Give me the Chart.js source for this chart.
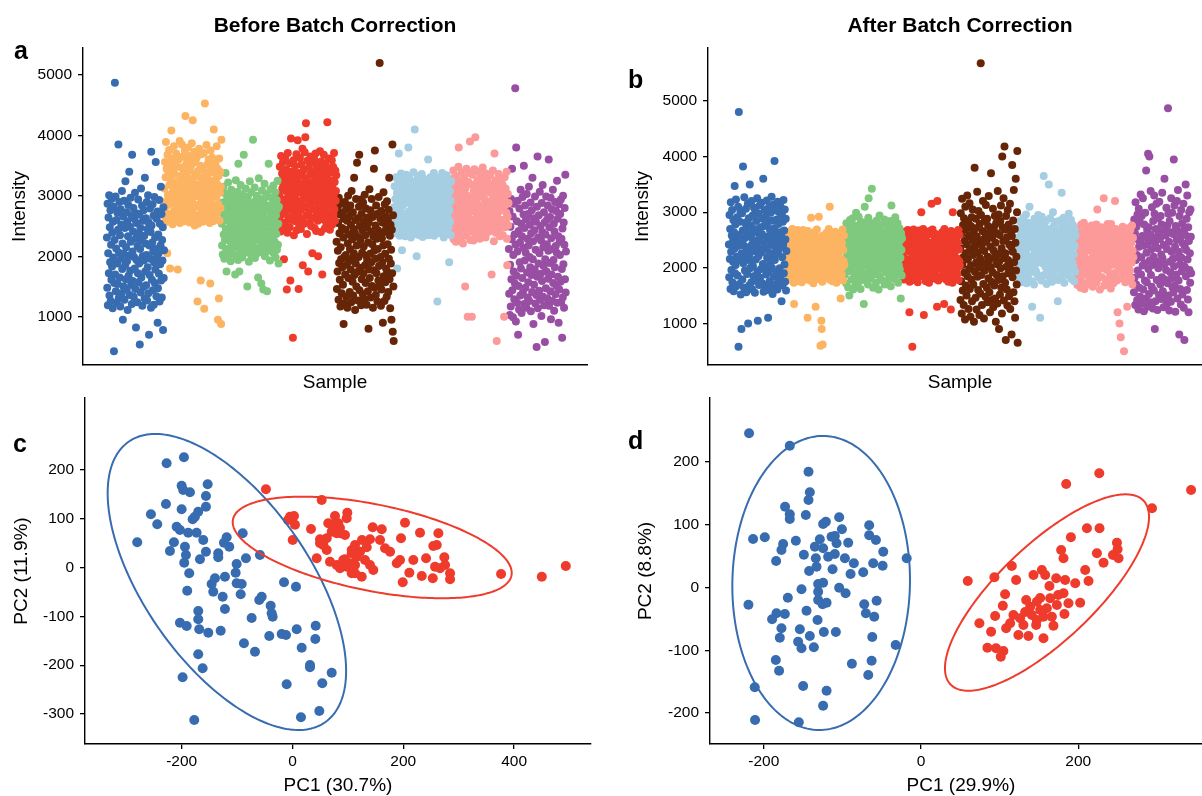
<!DOCTYPE html>
<html>
<head>
<meta charset="utf-8">
<script src="https://cdn.jsdelivr.net/npm/chart.js"></script>
<style>
html,body{margin:0;padding:0;background:#fff;width:1202px;height:796px;overflow:hidden;position:relative;font-family:"Liberation Sans",Arial,Helvetica,sans-serif}
canvas{position:absolute;display:block}
.lbl{position:absolute;font-weight:bold;font-size:25px;line-height:25px;color:#000;font-family:"Liberation Sans",Arial,Helvetica,sans-serif}
</style>
</head>
<body>
<canvas id="ca" width="601" height="400" style="left:0;top:0;width:601px;height:400px"></canvas>
<canvas id="cb" width="620" height="400" style="left:601px;top:0;width:620px;height:400px"></canvas>
<canvas id="cc" width="601" height="430" style="left:0;top:370px;width:601px;height:430px"></canvas>
<canvas id="cd" width="620" height="430" style="left:601px;top:370px;width:620px;height:430px"></canvas>
<div class="lbl" style="left:14px;top:38px">a</div>
<div class="lbl" style="left:628px;top:67px">b</div>
<div class="lbl" style="left:13px;top:431px">c</div>
<div class="lbl" style="left:628px;top:428px">d</div>
<script>
// ---------- DATA ----------
const batchNames = ['B1','B2','B3','B4','B5','B6','B7','B8'];

// Panel a: intensity of each sample before batch correction, in sample order
const beforeB1 = [
2310,1480,2870,1190,2050,2640,1720,3010,1350,2480,1900,2760,1260,2190,1610,2950,1830,2390,1140,2570,
1980,2820,430,1560,2270,4870,1700,2990,1420,2130,2600,1230,1880,2720,1540,2440,3850,1310,2060,2900,
1650,2350,1170,2780,1960,2520,1390,3080,1790,2210,950,2660,1500,2040,2920,1280,2470,1850,3240,1620,
2150,2730,1450,1920,2580,1110,2330,2850,1680,2010,3400,1360,2490,1760,2970,2240,1530,2680,1210,3680,
2080,1590,2410,2800,1330,1990,2620,1800,3050,1460,2290,820,2550,1940,2710,1240,2170,1720,2940,1570,
2380,1880,2690,540,2120,2470,1400,3120,1650,2260,2840,1180,2000,2590,1490,2760,1930,2340,1300,3300,
1750,2210,2630,1520,2020,2900,1270,2450,1820,3010,1390,2560,700,2180,1690,2790,1960,2400,1150,3730,
2510,1610,2230,2860,1440,2080,2670,1200,1900,2980,1560,2310,1780,3560,2120,1340,2620,1990,2740,900,
1470,2360,2050,1710,2930,1250,2540,1870,2180,3150,1600,2700,1320,2270,1930,2480,780,2810,1640,2100];
const beforeB2 = [
3120,2780,3560,2640,3310,3890,2910,3450,2570,2050,3680,3020,2850,3390,2700,3760,3180,2960,1800,3540,
2620,3270,4080,2880,3620,3050,2530,3430,3150,2740,3820,2990,3360,2660,3510,3080,2800,3700,2590,3230,
3480,2920,1780,3170,2680,3600,3010,2840,3910,2550,3330,3100,2770,3470,2610,3850,3200,2940,3650,2710,
2880,3400,3060,2580,3750,3250,4320,2690,3520,2970,3140,2820,3580,2640,3300,3800,2900,3420,3040,2560,
3660,2760,3200,3490,2600,3030,3870,2930,3280,4250,2720,3550,3110,2860,3730,2510,3370,3000,3590,2650,
3190,2830,3640,3070,1250,3410,2540,3320,2990,3780,2680,3160,2870,3500,1600,3060,2740,3690,2950,3260,
2570,3440,3130,2810,3710,1130,3000,4530,2630,3350,3080,2700,3840,3210,2890,3520,2610,3280,3010,3600,
2780,3390,2550,3150,1550,3750,2920,3470,2690,3090,3630,2840,3240,2580,3570,4100,3020,2750,3380,3120,
3540,2660,3280,2980,3820,2720,3190,3450,950,2860,3330,1300,3620,2590,3050,3400,2800,3150,880,3930];
const beforeB3 = [
2540,2180,2890,2030,2710,3150,2360,2600,1960,2820,2270,3040,3380,2450,2120,1750,2930,2310,2660,1990,
3220,2420,2750,2080,2570,2980,2250,2860,1920,2480,3100,2200,2690,2370,3010,2050,2620,2780,2140,2510,
2910,2290,1700,2640,3260,2010,2460,2830,2170,2580,3070,1940,3530,2400,2720,1750,2960,2230,2550,3180,
2100,2670,2340,2870,1980,3020,2500,2190,2770,3680,2300,2610,2060,2940,2430,3120,2150,2800,2380,2700,
1500,2520,2990,2260,2650,1910,2840,2410,3240,2110,2590,2740,2020,3060,2350,2880,2210,2470,3930,2630,
2160,2790,2390,3140,1970,2560,2920,2280,2680,2040,3000,2440,2850,2130,1650,2610,3290,2320,2760,2070,
2490,2950,2240,2710,1550,2380,3090,2180,2820,2530,1450,2900,2270,2640,3200,2000,2460,2760,2120,3030,
2580,2200,1420,2840,2350,2990,2090,3530,2620,2410,2780,1930,2550,3110,2260,2700,2150,2970,2430,2860,
2330,2720,3170,2050,2600,2890,2240,2470,3060,1980,2680,2370,2930,2110,2780,3250,2190,2540,1880,2820];
const beforeB4 = [
3010,2620,3480,2790,3250,2410,3660,2950,2530,3370,3120,2700,3560,2880,3190,1950,2460,3310,2740,3620,
2560,3080,3440,2840,1450,3200,2390,3710,2990,2650,3360,2920,3100,2480,3540,1600,3280,3950,2770,3050,
2600,3400,3170,650,2860,3590,2350,3020,3300,2710,3490,2580,3140,2940,3690,2430,3260,2820,3920,3090,
2670,1460,3380,2510,3060,3630,2760,3210,2450,3520,2900,3340,2620,3780,1850,3160,2980,3430,2540,3070,
3720,2810,3970,3290,4200,2680,3130,2370,3580,2960,3230,1750,2730,3470,2890,3040,2570,3350,3650,2850,
2500,3180,2930,3550,2050,3020,2640,3390,3110,2780,3600,2470,3270,2910,3700,3000,2420,3450,2720,3150,
3330,2590,2000,3060,3500,2830,3240,2680,3740,2970,3140,2400,3570,2870,3420,1700,3010,2750,3310,2610,
3680,2900,3200,2460,3530,3080,2800,3370,2550,3290,2700,4220,3120,2980,3460,2640,3620,2860,3180,2440,
3050,3390,2730,3260,2950,3590,2520,3150,2840,3480,2690,3000,3710,2780,3230,2590,3420,2920,3080,3340];
const beforeB5 = [
2240,1460,2810,1750,2090,2550,1280,2970,1890,2380,1610,2690,1170,2150,1950,2870,1390,2470,1820,2730,
1530,2310,880,2620,1990,1220,2900,1700,2440,2020,1330,2780,1860,2590,1150,2210,3000,1640,2360,1920,
2660,1410,2120,2840,1780,2520,1240,3080,1960,2280,1580,2730,1350,2450,2050,3300,1690,2390,1110,2600,
1880,2950,1500,2180,3550,1740,2630,1270,2320,1990,2820,3680,1440,2500,1810,2270,2940,1190,2700,1620,
2060,2430,1370,2890,1720,2160,2580,1290,3020,1850,2350,1560,2790,2010,1200,2480,1930,2640,1420,2230,
800,2560,1780,3110,1640,2040,2760,1320,2410,1900,2950,1510,2200,2650,1150,2330,1770,3450,2090,1480,
3750,1960,2510,1360,2840,1720,2290,2700,1250,2120,2430,1600,2980,1840,2350,5200,1530,2620,1990,1180,
2750,1450,2300,1900,2560,900,2180,3060,1670,2400,1260,2860,2040,1570,2660,1800,2480,1330,2910,1740,
2200,2590,1410,2770,1960,3300,1620,2340,1140,2520,1880,2110,950,2440,1720,3850,750,2680,1500,600];
const beforeB6 = [
2810,2470,3160,2640,2950,2380,3310,2720,2530,3050,1800,2870,2410,3230,2680,3700,2560,2990,2340,3120,
2760,2450,3370,2620,2910,2100,3080,2500,2840,3270,2390,2700,3010,2580,3190,2330,2930,2650,3350,2480,
2890,3140,2600,2360,3020,3800,2740,2550,3290,2430,2960,2680,3100,2310,2850,2570,3220,2790,2440,3060,
2620,3390,2480,2820,3170,4100,2530,2940,2370,3250,2710,2000,3040,2590,2880,3330,2460,2770,3110,2350,
2980,2540,3200,2670,2420,3060,2860,3360,2510,2750,2320,3130,2630,2900,3280,2470,2800,3000,2580,3180,
2400,2870,3240,2690,2520,3030,2780,3600,2350,2960,2610,3150,2450,2840,3310,2560,2730,3070,2390,2920,
3210,2490,2770,2950,2600,3380,2340,2830,3090,2520,2690,3000,2430,3260,2740,2580,1250,2900,3140,2620,
2710,3050,2380,2860,3300,2550,2990,2650,3170,2420,2800,3380,2500,2940,2660,3100,2310,2850,3230,2590,
2970,2440,3120,2700,2540,3340,2820,2400,3020,2640,3190,2480,2880,1900,2760,3080,2570,2920,2350,3240];
const beforeB7 = [
2660,3010,2390,3280,2550,2870,3420,2280,2960,2620,3150,2450,2780,3330,2240,3060,2710,2500,3210,2830,
2360,2930,3480,3800,2590,3090,2420,2750,3260,2300,2980,2640,3390,2520,2860,3170,2210,2720,3040,2470,
3300,2580,2890,1500,3120,2340,2770,3450,2490,2950,3000,1000,2680,3230,2400,2830,3380,2560,3900,2270,
2940,2610,3190,2430,1000,2800,3350,2530,2970,2260,3080,2740,3440,2380,2860,3970,2620,3140,2490,2910,
2330,3250,2690,3020,2440,2850,3400,2580,3110,2290,2760,3320,2510,2990,2650,3200,2370,2810,3470,2600,
3060,2460,2730,3290,2550,2930,3160,2310,2840,3370,2640,2480,3050,2760,3230,2400,2900,2580,3130,2700,
2420,3340,2870,2560,3070,2680,1700,3180,2460,2950,3420,2620,2790,2250,3100,3700,2530,2880,3260,2390,
2980,2640,600,3210,2700,2430,3040,2860,3360,2510,2750,3140,2330,2910,2600,3280,2470,3000,2820,2550,
3190,2350,2780,3070,2600,1000,2940,3310,2480,2850,3120,2570,2720,3400,2290,1850,2660,3030,2510,2880];
const beforeB8 = [
2120,1380,2750,1030,1860,2490,1170,2950,1620,2280,3450,1440,2660,990,2020,1750,2870,1290,2360,1550,
4780,2190,920,3800,1680,2580,1230,2080,2920,700,1510,2420,1120,2790,1900,2230,1350,3100,1800,2540,
1060,2330,1640,2980,1400,2140,2690,3500,1210,2470,1930,2840,1480,2060,2610,1150,3030,1730,2290,1320,
2700,1570,2180,3150,1260,1990,2520,1820,2890,1090,2380,1690,2760,1410,3300,1950,2250,880,2630,1530,
2430,1780,2990,1220,2110,2570,1360,500,2820,1660,3650,1140,2310,1880,2680,1430,2050,3070,1280,2500,
1710,2260,1010,2880,1590,2400,3180,1330,2150,1840,2730,1190,2560,580,1950,2360,1470,2990,1750,2200,
2610,1300,2840,1630,2090,3600,1180,2480,1890,2650,1420,2970,960,2300,1700,2780,1260,2120,3100,1560,
1940,2540,1100,2410,1820,2900,1370,2170,2750,1510,2060,3250,1230,2620,1660,2330,900,2860,1450,2240,
2020,2700,1580,2940,1240,2290,1790,650,2460,1320,3000,1870,2560,1150,2190,2800,1620,3350,1400,2080];

// Panel b: intensity of each sample after batch correction
const afterB1 = [
2420,1830,2950,2160,2700,1620,3180,2290,1960,2580,3040,1740,2470,2110,2860,1580,2640,2340,3470,1900,
2780,2050,3230,1670,2510,2200,2910,1860,2390,3100,580,4800,2590,1710,2830,2140,3010,1520,2450,900,
2260,2980,1790,2670,3820,2080,2400,1640,3270,2530,1950,2810,2170,3060,1560,2720,2310,1890,2600,3150,
1000,2370,2890,1680,2240,3500,1990,2760,2120,2550,1740,3200,2420,1610,2940,2030,2650,1850,3080,2300,
2700,1550,2480,3010,2150,2840,1780,2380,3250,1930,1050,2620,2210,2970,1690,2500,3120,1820,2330,2730,
1980,3170,2280,2610,1720,2880,2070,3600,1570,2440,2750,2010,3040,1660,2350,2920,1880,2560,3210,2180,
2800,1600,1100,2520,1940,3090,2270,1760,2680,2100,2990,1650,2410,3280,2000,2850,1530,2590,2230,3140,
1840,2710,3920,2140,2480,1700,3030,2340,1920,2870,2560,1610,3190,2260,2790,1760,2450,3000,1990,2640,
2360,3100,1860,2570,1400,2960,2190,1680,2830,2410,3220,1900,2670,2060,3050,1750,2510,2880,1590,2300];
const afterB2 = [
2230,1920,2540,2080,2390,1780,2650,2140,2010,2460,2280,1850,2590,2170,1990,2420,2060,2700,1810,2330,
2120,2500,1730,1350,2270,2610,1940,2360,2040,2560,1880,2190,2470,1760,2680,2100,2300,1950,2530,2010,
2400,1820,2620,2250,1910,2480,2130,1740,2570,2210,2030,2680,1870,2350,2160,1980,2440,2090,2600,1790,
2310,2050,2520,1840,2200,1100,2660,2000,2380,1930,2550,2110,2270,1770,2490,2170,2900,1890,2430,2060,
1960,2590,2240,1720,2370,2140,2640,1860,2320,2020,1300,2500,2180,1980,2690,2080,2420,1800,2280,2150,
2920,2550,1900,2340,2070,600,2460,2230,1050,900,2000,1750,620,2580,2120,2390,1830,2210,2520,2040,
2260,1970,2450,2170,2630,1810,2350,2060,2560,1930,2290,2700,1870,2410,3100,2190,1780,2510,2100,2330,
1990,2600,2150,1760,2470,2240,2020,2570,1850,2300,2130,2650,1950,2400,2080,1730,2540,2250,1910,2360,
2180,2490,1820,2280,2070,2620,1940,2380,1450,2530,2160,1880,2440,2010,2690,1770,2320,2120,2580,2050];
const afterB3 = [
2310,1870,2640,2090,2450,1720,2800,2200,1980,2560,2370,1650,2720,2140,2510,1500,2280,2860,1940,2420,
2170,2680,1790,2490,2030,2890,2250,1610,2600,2330,1900,2760,2110,2440,1680,2570,2990,2040,2350,1830,
2700,2160,2480,1740,2920,2290,1950,2620,2080,2400,1620,2830,2210,2540,2010,2750,1860,2380,2120,2660,
1350,2470,2230,3100,1770,2580,2060,2820,2320,1900,2690,2140,2460,1700,2900,3250,2270,2010,2610,2190,
2390,1810,2730,2100,2520,3420,1960,2350,2800,1640,2430,2180,2660,1880,2300,2050,2770,2240,1730,2570,
2850,2020,2420,1920,2640,2280,1610,2500,2150,2940,1850,2370,2700,2000,2560,2230,1780,2470,2090,2780,
2130,2590,1990,2330,2870,1700,2450,2200,2630,1920,2380,2780,2060,2510,1760,2310,2060,2690,2250,1840,
2540,2110,2840,2360,1670,2480,3120,1950,2620,2270,2020,2730,1890,2430,2170,2590,1800,2360,2910,2080,
2290,2650,1910,2460,2130,2800,2240,1730,2550,2040,2380,2710,1970,2490,2180,1450,2620,2320,1860,2530];
const afterB4 = [
2260,1910,2580,2040,2400,1790,2650,2170,2010,2480,2300,1840,2610,2110,1960,2440,2070,2680,1820,2350,
2150,2520,1200,1750,2290,2630,1930,2380,2050,2560,1870,580,2200,2460,1780,2690,2120,2330,1950,2540,
2020,2420,1810,2620,2240,1900,2500,2140,1740,2590,2230,2030,2670,1880,2360,2160,1990,2450,2090,3000,
2310,2060,2530,1850,2210,2700,1970,1150,2390,1920,2570,2130,2280,1760,2490,2190,2640,1890,2410,2070,
1980,2600,2250,1730,2370,2150,2660,1860,2340,2010,2450,3150,2180,1990,2690,2090,2420,1810,2290,2140,
2560,1940,2330,2080,2610,1800,2470,2220,1300,3200,2000,2550,1770,2340,2120,2400,1850,2230,2520,2050,
2270,1980,2460,2160,2640,1820,2360,2070,2570,1940,1350,2700,1870,2420,2110,2200,1790,2510,2100,2320,
2000,2610,2140,1750,2480,2250,2030,2580,1860,2310,2130,1250,2660,1960,2390,2080,1730,3000,2240,1910,
2190,2500,1830,2290,2060,2630,1950,2370,2150,2540,2170,1890,2450,2010,2680,1780,2330,2120,2590,2040];
const afterB5 = [
2350,1420,2980,1760,2610,1180,3240,2050,1590,2770,2190,1330,2890,1910,2480,1070,3100,2260,1680,2690,
1500,2420,3300,1850,2150,2820,1260,2570,1980,3160,1620,2330,1120,2750,2040,1790,2910,1400,2500,3050,
2230,1700,2640,1030,2380,3800,1930,2710,1460,2880,2100,1250,2560,3370,1840,2280,1600,3020,2010,2450,
1150,2790,2170,1540,5680,2950,1870,2400,1330,2660,2090,3200,1710,2510,1090,2300,2840,1950,2620,1480,
3130,2060,2470,1640,2880,1380,2200,2750,1810,3290,2130,1560,2590,1200,2380,2010,3700,1750,2680,1420,
2540,1920,3060,1290,2310,2730,1680,2190,2930,1450,2450,1030,2800,2070,1870,2620,1360,3380,2250,1780,
2960,900,2120,2590,1520,2840,1990,3120,1640,2350,1180,4000,2730,1850,2480,3250,1410,2170,4180,2690,
1730,2260,700,2930,2020,1610,2550,1320,3040,2140,1900,2780,1490,2420,2030,3150,1260,2660,1950,2380,
800,2570,3850,1830,2290,2850,1560,3400,2100,1400,2700,1100,2450,3600,1950,2200,1700,3000,4100,650];
const afterB6 = [
2380,1960,2710,2150,2550,1810,2840,2260,2040,2630,2420,1890,2770,2190,2500,1740,2340,2900,2010,2470,
2230,2660,1850,2580,2090,2960,2320,1720,2690,2440,1980,2810,2170,2520,1790,2620,3100,2110,2400,1920,
2750,2210,2540,1760,1300,2370,2030,2680,2140,2460,1700,2880,2280,2600,2060,2790,1940,2430,2180,2720,
1880,2510,2290,2950,1830,2640,2120,2860,2390,1100,2740,2200,2490,1770,2920,2300,2080,2570,2650,2250,
3650,1870,2780,2160,2590,2350,2010,2410,2850,1710,2480,2230,2700,1950,2360,2100,3500,2310,1820,2620,
2890,2070,2470,1990,2690,2340,1750,2550,2200,3000,1910,2420,2760,2050,2610,2270,1840,2530,2150,2830,
2190,2640,2040,2390,1400,1780,2510,2260,2670,1960,2430,2850,2120,2560,1810,2350,3350,2730,2280,1900,
2590,2170,2900,2420,1730,2540,2060,2800,2000,2330,2090,2790,1940,2480,2220,2640,1860,2410,2970,2130,
2340,2700,1970,2500,2200,2860,2290,1800,2610,2100,2450,2770,2030,2560,2240,1760,2690,2390,1930,2580];
const afterB7 = [
2210,1820,2560,2000,2390,1690,2700,2110,1930,2480,2270,1760,2620,2060,2420,1640,2200,2780,1860,2330,
2080,2590,1730,2450,1980,2810,2240,1620,2650,2360,1900,2740,2130,2480,1700,2550,2030,2310,2690,1850,
2470,2150,2680,1780,2400,2010,2600,1880,2320,2760,1950,2520,2190,1660,2430,2090,2710,1800,2280,2570,
1920,2380,2630,2040,2780,1740,2470,3050,2180,2290,1870,2550,2000,2720,2340,1610,2600,2120,2440,2170,
2730,1830,2250,2640,1990,2500,2140,3250,2360,1680,2580,2070,2410,1790,2680,2230,1960,2530,2100,2790,
2010,2460,1750,2330,2660,2150,1900,2570,2270,1630,2790,2050,2420,2200,1840,2520,2350,1720,2610,2090,
2440,2160,3200,1910,2370,2700,2060,2490,1770,2300,1200,2580,2130,2020,2510,2250,1000,2660,1810,2380,
750,2220,2540,1970,2390,2080,2740,1870,2290,2560,500,2420,2170,2650,1740,2330,2010,2600,2120,1900,
1300,2480,2040,2710,2230,1860,2590,2140,2360,1950,2680,2260,1810,2450,2090,2760,1700,2310,2540,2190];
const afterB8 = [
2300,1560,2870,1820,2620,1330,3180,2140,1700,2740,2230,1420,2960,1950,2510,1250,3060,2380,1640,2820,
1480,2450,3320,1880,2190,2930,1360,2570,2040,3250,1610,2400,1220,2780,2080,1770,2990,1450,2540,3750,
2270,1740,2680,1300,2420,4050,1980,2730,1530,4000,2130,1380,2600,3380,1870,2330,1660,3090,2050,2490,
1270,2840,2200,1590,3300,2970,900,2440,1400,2700,2120,3150,1780,2560,1240,2350,2890,1990,2650,1510,
3190,2090,2520,1700,2930,1440,2240,2780,1830,3350,2170,1580,2620,1290,2410,2060,3600,1790,2700,1470,
2580,1960,3080,1350,2340,2760,1720,4870,2970,1500,2470,1230,2840,2110,1920,2640,1390,3250,2290,1810,
2990,1650,2160,2610,1560,3950,2030,3120,1680,2380,1210,2750,2720,1880,2500,3200,1450,2190,3400,2660,
1770,2290,800,2930,2060,1620,2550,1340,3040,2180,1940,2800,1520,2440,2040,3150,1280,2680,700,2390,
2010,2590,3500,1850,2320,2880,1600,3300,2150,1430,2730,1200,2480,3000,1960,2260,1730,3050,2560,1900];

const intensityTicksA = [1000,2000,3000,4000,5000];
const intensityTicksB = [1000,2000,3000,4000,5000];

// Panel c: PCA before correction [PC1, PC2]
const pcaBeforeGroup1 = [
[-227.2,213.7],[-195.9,226.0],[-200.1,167.8],[-185.1,154.3],[-197.2,159.0],[-153.1,170.7],[-156.2,146.7],[-228.4,130.3],[-200.1,119.5],[-156.2,124.8],
[-170.1,114.5],[-176.1,104.3],[-180.2,99.0],[-255.5,109.2],[-244.1,88.7],[-280.2,51.8],[-209.1,83.8],[-203.1,77.0],[-188.2,71.5],[-173.0,71.5],
[-161.1,56.6],[-214.0,51.8],[-221.2,34.0],[-194.1,42.8],[-192.3,25.8],[-156.2,32.6],[-167.0,17.0],[-195.4,10.0],[-134.0,29.3],[-134.0,21.1],
[-118.8,62.1],[-114.1,42.8],[-123.7,51.0],[-89.9,70.3],[-100.8,7.4],[-102.6,-10.5],[-84.0,19.1],[-58.7,25.8],[-186.4,-11.7],[-139.9,-21.9],
[-121.9,-18.6],[-145.9,-33.6],[-100.8,-32.2],[-91.7,-33.6],[-190.0,-47.3],[-143.0,-49.4],[-126.0,-59.6],[-93.5,-54.7],[-55.6,-59.6],[-60.0,-66.4],
[-15.3,-30.1],[6.3,-39.1],[-121.9,-84.8],[-170.1,-88.9],[-39.4,-78.1],[-73.7,-103.3],[-37.6,-93.6],[-35.8,-100.6],[-170.1,-105.9],[-203.1,-112.9],
[-191.0,-119.7],[-168.3,-126.4],[-152.0,-133.4],[-129.6,-129.3],[-41.9,-140.2],[-19.5,-136.1],[-11.7,-138.1],[7.6,-126.4],[41.9,-119.1],[41.2,-146.3],
[-87.6,-155.1],[-67.7,-172.3],[16.6,-164.1],[-170.1,-177.7],[-162.2,-206.4],[31.6,-199.6],[31.6,-204.3],[70.8,-215.4],[-198.3,-224.8],[-10.5,-239.1],
[53.8,-237.1],[-177.3,-312.3],[15.3,-306.8],[48.4,-293.9]];
const pcaBeforeGroup2 = [
[-47.9,160.5],[52.7,138.5],[-4.5,104.3],[2.7,105.7],[4.5,87.7],[0.4,56.6],[33.4,79.1],[76.7,105.7],[99.0,112.5],[97.9,101.0],
[64.6,90.8],[73.7,87.3],[82.7,90.8],[70.8,73.6],[79.8,70.3],[94.8,66.8],[49.7,58.0],[55.6,46.3],[61.8,36.1],[43.7,19.1],
[106.9,36.1],[121.9,32.6],[134.0,41.6],[139.9,58.0],[144.8,82.6],[161.1,78.5],[158.0,56.6],[167.0,39.5],[176.1,32.6],[67.7,12.1],
[79.8,5.3],[94.8,17.0],[103.8,8.8],[112.9,5.3],[115.9,22.3],[130.9,15.6],[139.9,5.3],[145.9,-4.9],[106.9,-11.7],[125.0,-18.6],
[85.8,-1.4],[97.9,1.8],[203.1,92.0],[230.2,71.5],[263.3,70.3],[195.9,60.0],[254.2,44.3],[260.4,46.3],[188.2,8.8],[194.1,15.6],
[218.1,15.6],[241.1,19.1],[274.1,21.1],[275.4,5.3],[257.3,1.8],[266.3,-1.4],[210.9,-10.5],[199.0,-30.1],[233.3,-17.2],[253.2,-21.9],
[284.4,-11.7],[284.4,-24.0],[376.5,-13.1],[450.0,-18.6],[493.3,3.3],[-8.1,97.5],[73.7,77.0],[85.8,70.3],[61.8,60.0],[49.7,49.8],
[91.7,15.6],[112.9,-11.7],[106.9,29.3],[85.8,81.1],[125.5,56.6],[112.9,46.3]];

// Panel d: PCA after correction [PC1, PC2]
const pcaAfterGroup1 = [
[-218.7,245.7],[-166.9,226.0],[-143.1,184.5],[-141.4,151.7],[-143.1,139.4],[-172.9,128.8],[-166.9,116.7],[-166.9,109.2],[-146.5,115.5],[-104.1,111.9],
[-124.5,101.2],[-121.0,104.9],[-100.6,92.7],[-65.9,99.1],[-65.9,83.2],[-57.3,75.7],[-213.6,77.3],[-198.7,80.0],[-159.2,74.6],[-175.4,69.3],
[-177.5,59.8],[-128.7,76.8],[-113.8,81.0],[-109.6,82.1],[-107.4,70.4],[-92.6,71.4],[-135.0,65.0],[-124.5,62.5],[-118.1,49.1],[-109.6,53.4],
[-48.0,57.1],[-149.0,52.3],[-184.3,42.2],[-133.8,46.5],[-132.9,33.1],[-142.3,26.3],[-96.8,46.5],[-85.4,38.6],[-112.5,29.0],[-89.6,21.5],
[-73.5,24.2],[-60.8,38.6],[-48.8,34.7],[-18.2,46.5],[-130.8,5.6],[-124.5,7.6],[-152.0,-2.9],[-104.1,-0.3],[-95.9,-9.2],[-130.8,-6.7],
[-130.8,-19.9],[-125.2,-26.8],[-120.1,-24.2],[-169.4,-16.3],[-219.5,-27.4],[-72.2,-26.8],[-70.1,-41.1],[-59.5,-46.5],[-56.4,-21.0],[-183.8,-41.1],
[-189.4,-50.7],[-173.2,-42.2],[-145.6,-37.0],[-131.6,-51.8],[-177.5,-65.0],[-179.6,-80.0],[-154.1,-66.6],[-141.4,-77.3],[-123.6,-70.9],[-108.3,-70.9],
[-156.3,-86.4],[-152.0,-96.9],[-136.3,-95.3],[-62.0,-78.9],[-32.2,-91.6],[-184.7,-115.5],[-180.5,-132.6],[-87.9,-121.4],[-62.8,-116.7],[-67.1,-139.4],
[-211.5,-159.0],[-149.9,-157.0],[-120.1,-164.5],[-124.5,-188.4],[-211.1,-211.2],[-155.4,-214.8]];
const pcaAfterGroup2 = [
[184.7,164.9],[226.8,182.0],[343.6,155.4],[293.9,126.2],[211.1,94.3],[227.1,94.3],[190.7,80.0],[249.3,71.4],[250.1,60.9],[244.2,51.8],
[251.3,46.5],[232.2,39.5],[223.8,54.5],[178.3,59.8],[181.3,46.5],[115.5,34.3],[153.8,27.9],[158.0,19.9],[143.1,19.9],[93.4,16.3],
[59.5,10.4],[121.0,12.0],[172.0,14.7],[183.4,12.0],[196.2,6.7],[213.1,10.4],[163.4,2.4],[181.3,-9.2],[107.0,-10.8],[104.1,-29.0],
[133.8,-19.9],[147.4,-22.6],[164.3,-17.2],[172.9,-27.9],[187.6,-25.2],[202.5,-24.2],[138.9,-30.6],[151.6,-35.9],[160.1,-33.1],[117.6,-43.8],
[126.1,-49.1],[113.4,-57.1],[94.3,-45.4],[141.0,-43.8],[147.4,-51.8],[155.8,-46.5],[166.5,-46.5],[182.5,-42.2],[130.3,-59.8],[146.5,-59.8],
[168.5,-60.9],[74.3,-57.1],[89.2,-70.4],[108.3,-65.0],[123.9,-75.7],[136.7,-77.3],[155.8,-81.0],[84.5,-95.9],[95.5,-96.9],[104.8,-101.2],
[101.5,-110.3],[151.6,-16.7],[132.5,-39.0],[174.5,-12.0],[208.9,27.9]];

// 95% ellipses: [centre PC1, centre PC2, half-width PC1, half-height PC2, correlation]
const ellipseBeforeGroup1 = [-118.4,-29.5,215.2,303.3,-0.60];
const ellipseBeforeGroup2 = [143.9,41.2,251.8,104.1,-0.50];
const ellipseAfterGroup1 = [-127.0,7.2,113.0,234.3,0.02];
const ellipseAfterGroup2 = [160.3,-8.0,129.8,156.5,0.77];

const pcTicksCx = [-200,0,200,400];
const pcTicksCy = [-300,-200,-100,0,100,200];
const pcTicksDx = [-200,0,200];
const pcTicksDy = [-200,-100,0,100,200];

// ---------- STYLE ----------
const FONT = '"Liberation Sans", Arial, Helvetica, sans-serif';
const batchColors = ['#386CB0','#FDB462','#7FC97F','#EF3B2C','#662506','#A6CEE3','#FB9A99','#984EA3'];
const groupColors = ['#386CB0','#EF3B2C'];
const N = 180;
const TICK_SIZE = 15.5;
Chart.defaults.font.family = FONT;
Chart.defaults.color = '#000';

const ellipsePlugin = {
  id: 'ellipses',
  afterDatasetsDraw(chart, args, opts) {
    const xs = chart.scales.x, ys = chart.scales.y, ctx = chart.ctx;
    ctx.save();
    (opts.items || []).forEach(e => {
      const [cx, cy, rx, ry, rho] = e.params;
      const s = Math.sqrt(1 - rho * rho);
      ctx.beginPath();
      for (let j = 0; j <= 240; j++) {
        const t = j / 240 * 2 * Math.PI;
        const px = xs.getPixelForValue(cx + rx * Math.cos(t));
        const py = ys.getPixelForValue(cy + ry * (rho * Math.cos(t) + s * Math.sin(t)));
        if (j === 0) ctx.moveTo(px, py); else ctx.lineTo(px, py);
      }
      ctx.closePath();
      ctx.strokeStyle = e.color;
      ctx.lineWidth = 2;
      ctx.stroke();
    });
    ctx.restore();
  }
};

function tickFromList(list) {
  return s => { s.ticks = list.map(v => ({ value: v })); };
}
function axisCommon() {
  return {
    border: { display: true, color: '#000', width: 1.4 },
    grid: { display: true, drawOnChartArea: false, drawTicks: true, tickLength: 5, color: '#000', lineWidth: 1.3 }
  };
}

function stripChart(id, title, batches, cfg) {
  const datasets = batches.map((vals, k) => ({
    label: batchNames[k],
    data: vals.map((v, i) => ({ x: k * N + i, y: v })),
    backgroundColor: batchColors[k],
    borderWidth: 0,
    pointRadius: 4,
    pointHoverRadius: 4
  }));
  return new Chart(document.getElementById(id), {
    type: 'scatter',
    data: { datasets },
    options: {
      responsive: false, animation: false, events: [],
      layout: { padding: cfg.pad },
      plugins: {
        legend: { display: false }, tooltip: { enabled: false },
        title: { display: true, text: title, fullSize: false, color: '#000',
                 font: { size: 21, weight: 'bold', family: FONT }, padding: { top: 13.4, bottom: 9.4 } }
      },
      scales: {
        x: Object.assign(axisCommon(), {
          type: 'linear', min: cfg.xMin, max: cfg.xMax,
          grid: { display: true, drawOnChartArea: false, drawTicks: false, color: '#000' },
          ticks: { display: false },
          afterFit: s => { s.height = cfg.xH; },
          title: { display: true, text: 'Sample', color: '#000', font: { size: 19, family: FONT }, padding: { top: 0, bottom: cfg.xTitlePad } }
        }),
        y: Object.assign(axisCommon(), {
          type: 'linear', min: cfg.yMin, max: cfg.yMax,
          afterBuildTicks: tickFromList(cfg.yTicks),
          afterFit: s => { s.width = cfg.yW; },
          ticks: { color: '#000', font: { size: TICK_SIZE, family: FONT }, padding: 6, callback: v => String(v) },
          title: { display: true, text: 'Intensity', color: '#000', font: { size: 19, family: FONT }, padding: { top: cfg.yTitlePad, bottom: 0 } }
        })
      }
    }
  });
}

function pcaChart(id, g1, g2, e1, e2, cfg) {
  const mk = (pts, c, lab) => ({
    label: lab, data: pts.map(p => ({ x: p[0], y: p[1] })),
    backgroundColor: c, borderWidth: 0, pointRadius: 5, pointHoverRadius: 5
  });
  return new Chart(document.getElementById(id), {
    type: 'scatter',
    data: { datasets: [mk(g1, groupColors[0], 'Group 1'), mk(g2, groupColors[1], 'Group 2')] },
    plugins: [ellipsePlugin],
    options: {
      responsive: false, animation: false, events: [],
      layout: { padding: cfg.pad },
      plugins: {
        legend: { display: false }, tooltip: { enabled: false },
        ellipses: { items: [{ params: e1, color: groupColors[0] }, { params: e2, color: groupColors[1] }] }
      },
      scales: {
        x: Object.assign(axisCommon(), {
          type: 'linear', min: cfg.xMin, max: cfg.xMax,
          afterBuildTicks: tickFromList(cfg.xTicks),
          afterFit: s => { s.height = cfg.xH; },
          ticks: { color: '#000', font: { size: TICK_SIZE, family: FONT }, padding: 3, maxRotation: 0, callback: v => String(v) },
          title: { display: true, text: cfg.xTitle, color: '#000', font: { size: 19, family: FONT }, padding: { top: 0, bottom: cfg.xTitlePad } }
        }),
        y: Object.assign(axisCommon(), {
          type: 'linear', min: cfg.yMin, max: cfg.yMax,
          afterBuildTicks: tickFromList(cfg.yTicks),
          afterFit: s => { s.width = cfg.yW; },
          ticks: { color: '#000', font: { size: TICK_SIZE, family: FONT }, padding: 6, callback: v => String(v) },
          title: { display: true, text: cfg.yTitle, color: '#000', font: { size: 19, family: FONT }, padding: { top: cfg.yTitlePad, bottom: 0 } }
        })
      }
    }
  });
}

stripChart('ca', 'Before Batch Correction',
  [beforeB1, beforeB2, beforeB3, beforeB4, beforeB5, beforeB6, beforeB7, beforeB8],
  { pad: { left: 0, top: 0, right: 14, bottom: 0 }, xMin: -75, xMax: 1505, yMin: 201, yMax: 5447,
    yTicks: intensityTicksA, yW: 83, xH: 35, xTitlePad: 5.6, yTitlePad: 8.6 });

stripChart('cb', 'After Batch Correction',
  [afterB1, afterB2, afterB3, afterB4, afterB5, afterB6, afterB7, afterB8],
  { pad: { left: 0, top: 0, right: 9, bottom: 0 }, xMin: -65, xMax: 1504, yMin: 252, yMax: 5953,
    yTicks: intensityTicksB, yW: 107, xH: 35, xTitlePad: 5.6, yTitlePad: 30.6 });

pcaChart('cc', pcaBeforeGroup1, pcaBeforeGroup2, ellipseBeforeGroup1, ellipseBeforeGroup2,
  { pad: { left: 0, top: 28, right: 10, bottom: 0 }, xMin: -374.5, xMax: 538.8, yMin: -361.5, yMax: 347.5,
    xTicks: pcTicksCx, yTicks: pcTicksCy, yW: 85, xH: 56, xTitlePad: 2.6, yTitlePad: 10.6,
    xTitle: 'PC1 (30.7%)', yTitle: 'PC2 (11.9%)' });

pcaChart('cd', pcaAfterGroup1, pcaAfterGroup2, ellipseAfterGroup1, ellipseAfterGroup2,
  { pad: { left: 0, top: 28, right: 9, bottom: 0 }, xMin: -268.4, xMax: 370.2, yMin: -249.4, yMax: 302,
    xTicks: pcTicksDx, yTicks: pcTicksDy, yW: 109, xH: 56, xTitlePad: 2.6, yTitlePad: 33.6,
    xTitle: 'PC1 (29.9%)', yTitle: 'PC2 (8.8%)' });
</script>
</body>
</html>
